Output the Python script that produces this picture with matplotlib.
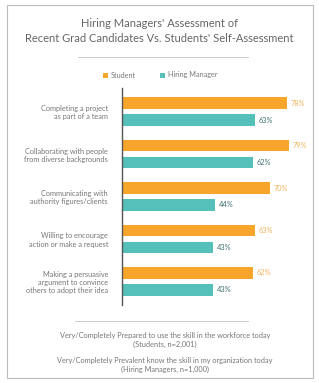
import matplotlib
matplotlib.use("Agg")
import matplotlib.pyplot as plt
from matplotlib.patches import Rectangle
from matplotlib.lines import Line2D
import numpy as np

plt.rcParams['font.family'] = ['Lato', 'DejaVu Sans']

categories = [
    "Completing a project\nas part of a team",
    "Collaborating with people\nfrom diverse backgrounds",
    "Communicating with\nauthority figures/clients",
    "Willing to encourage\naction or make a request",
    "Making a persuasive\nargument to convince\nothers to adopt their idea",
]
students = [78, 79, 70, 63, 62]
managers = [63, 62, 44, 43, 43]
series_names = ["Student", "Hiring Manager"]
title = "Hiring Managers' Assessment of\nRecent Grad Candidates Vs. Students' Self-Assessment"
note1 = "Very/Completely Prepared to use the skill in the workforce today\n(Students, n=2,001)"
note2 = "Very/Completely Prevalent know the skill in my organization today\n(Hiring Managers, n=1,000)"

orange = "#F7A52B"
teal = "#55BFBA"
grey = "#777777"

W, H = 319, 383
fig = plt.figure(figsize=(W / 100, H / 100), dpi=100)
fig.patch.set_facecolor("white")

# card border
fig.add_artist(Rectangle((7 / W, 5 / H), (313 - 7) / W, (378 - 5) / H, transform=fig.transFigure,
                         fill=False, edgecolor="#BBBBBB", linewidth=0.8))

fig.text(0.5, 1 - 31 / H, title, ha="center", va="center", fontsize=8.0, color="#666666",
         linespacing=1.45)
fig.add_artist(Line2D([78 / W, 248 / W], [1 - 57 / H] * 2, transform=fig.transFigure,
                      color="#CCCCCC", linewidth=0.7))

# legend
ly = 1 - 75 / H
fig.add_artist(Rectangle((103 / W, ly - 2.5 / H), 5 / W, 5 / H, transform=fig.transFigure,
                         facecolor=orange, edgecolor="none"))
fig.text(111 / W, ly, series_names[0], ha="left", va="center", fontsize=5.2, color=grey)
fig.add_artist(Rectangle((160 / W, ly - 2.5 / H), 5 / W, 5 / H, transform=fig.transFigure,
                         facecolor=teal, edgecolor="none"))
fig.text(168 / W, ly, series_names[1], ha="left", va="center", fontsize=5.2, color=grey)

ax = fig.add_axes([122 / W, 1 - 305 / H, (300 - 122) / W, (305 - 88) / H])
y = np.arange(len(categories))
off = 0.2
h = 0.28
ax.barh(y - off, students, height=h, color=orange)
ax.barh(y + off, managers, height=h, color=teal)
ax.set_xlim(0, 178 / 2.11)
ax.set_ylim(4.553, -0.553)
for s in ["top", "right", "bottom"]:
    ax.spines[s].set_visible(False)
ax.spines["left"].set_color("#555555")
ax.spines["left"].set_linewidth(1.0)
ax.set_xticks([])
ax.set_yticks(y)
ax.set_yticklabels(categories, fontsize=5.3, color=grey, linespacing=1.2)
ax.tick_params(axis="y", length=0, pad=10)
for i in range(len(categories)):
    ax.text(students[i] + 1.8, y[i] - off, f"{students[i]}%", va="center", ha="left",
            fontsize=5.3, color="#F2B45A", clip_on=False)
    ax.text(managers[i] + 1.8, y[i] + off, f"{managers[i]}%", va="center", ha="left",
            fontsize=5.3, color="#3E6F73", clip_on=False)

fig.add_artist(Line2D([75 / W, 248 / W], [1 - 321 / H] * 2, transform=fig.transFigure,
                      color="#CCCCCC", linewidth=0.7))
fig.text(165 / W, 1 - 340 / H, note1, ha="center", va="center", fontsize=5.3, color=grey,
         linespacing=1.3)
fig.text(165 / W, 1 - 365 / H, note2, ha="center", va="center", fontsize=5.3, color=grey,
         linespacing=1.3)

fig.savefig("out.png", dpi=100)
